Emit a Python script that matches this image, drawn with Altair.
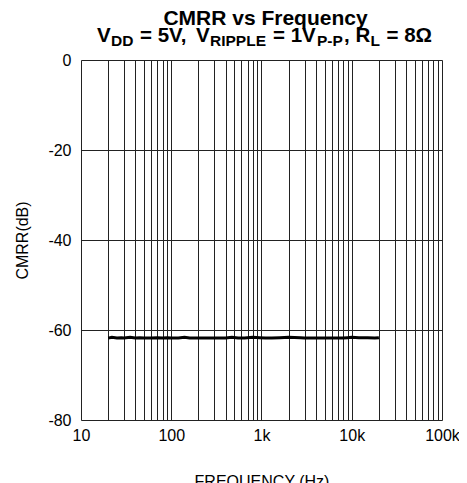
import altair as alt
import pandas as pd

# ---- data ----
freq_hz = [20, 22, 25, 28, 30, 35, 40, 45, 50, 60, 70, 80, 90, 100, 120, 140, 160,
           200, 250, 300, 350, 400, 470, 550, 650, 800, 950, 1100, 1300, 1600, 2000,
           2700, 3000, 4000, 5000, 6000, 7000, 8000, 9000, 10000, 12000, 15000, 18000, 20000]
cmrr_db = [-61.8, -61.6, -61.8, -61.7, -61.8, -61.6, -61.8, -61.7, -61.8, -61.8, -61.7, -61.8, -61.7, -61.8, -61.8, -61.6, -61.8,
           -61.8, -61.8, -61.8, -61.8, -61.8, -61.6, -61.8, -61.8, -61.6, -61.7, -61.8, -61.8, -61.7, -61.6,
           -61.7, -61.8, -61.8, -61.8, -61.8, -61.8, -61.8, -61.7, -61.6, -61.7, -61.7, -61.8, -61.7]

x_tick_values = [10, 20, 30, 40, 50, 60, 70, 80, 90,
                 100, 200, 300, 400, 500, 600, 700, 800, 900,
                 1000, 2000, 3000, 4000, 5000, 6000, 7000, 8000, 9000,
                 10000, 20000, 30000, 40000, 50000, 60000, 70000, 80000, 90000, 100000]
x_label_values = [10, 100, 1000, 10000, 100000]
x_label_texts = ["10", "100", "1k", "10k", "100k"]
y_tick_values = [-80, -60, -40, -20, 0]

title_line1 = "CMRR vs Frequency"
# subtitle pieces: text, font size, page x, is_subscript
sub_texts = ["V", "DD", "= 5V,", "V", "RIPPLE", "= 1V", "P-P", ",", "R", "L", "= 8Ω"]
sub_sizes = [20.5, 15.5, 20.5, 20.5, 15.5, 20.5, 15.5, 20.5, 20.5, 15.5, 20.5]
sub_pagex = [97, 111, 140, 196, 210, 273, 317, 344, 355.5, 370.5, 386.5]
sub_is_sub = [0, 1, 0, 0, 1, 0, 1, 0, 0, 1, 0]

# ---- layout constants ----
PLOT_W, PLOT_H = 361, 360
PAD_L, PAD_T = 73, 52
ORIGIN_X, ORIGIN_Y = 8 + PAD_L, 8 + PAD_T

df = pd.DataFrame({"freq": freq_hz, "cmrr": cmrr_db})

label_expr = " : ".join(
    f"datum.value == {v} ? '{t}'" for v, t in zip(x_label_values, x_label_texts)
) + " : ''"

FONT = "Liberation Sans"

line = alt.Chart(df).mark_line(color="black", strokeWidth=3).encode(
    x=alt.X("freq:Q",
            scale=alt.Scale(type="log", domain=[10, 100000], nice=False),
            axis=alt.Axis(values=x_tick_values, labelExpr=label_expr, title="FREQUENCY (Hz)",
                          grid=True, gridColor="#222222", gridWidth=1, gridOpacity=1,
                          ticks=False, domain=False, labelOverlap=False, labelFlush=False,
                          labelFont=FONT, labelFontSize=16, labelColor="black", labelPadding=7,
                          titleFont=FONT, titleFontSize=16, titleFontWeight="normal",
                          titleColor="black", titlePadding=30)),
    y=alt.Y("cmrr:Q",
            scale=alt.Scale(domain=[-80, 0], nice=False, zero=False),
            axis=alt.Axis(values=y_tick_values, labelExpr="'' + datum.value", title="CMRR(dB)",
                          grid=True, gridColor="#222222", gridWidth=1, gridOpacity=1,
                          ticks=False, domain=False,
                          labelFont=FONT, labelFontSize=16, labelColor="black", labelPadding=10,
                          titleFont=FONT, titleFontSize=16, titleFontWeight="normal",
                          titleColor="black", titlePadding=17)),
)

t1 = alt.Chart(pd.DataFrame({"t": [title_line1]})).mark_text(
    font=FONT, fontSize=21, fontWeight="bold", align="center", baseline="alphabetic", color="black"
).encode(
    text="t:N",
    x=alt.value(265.5 - ORIGIN_X),
    y=alt.value(25 - ORIGIN_Y),
)

sub_df = pd.DataFrame({
    "t": sub_texts,
    "size": sub_sizes,
    "px": [p - ORIGIN_X for p in sub_pagex],
    "py": [(45.5 if s else 41.7) - ORIGIN_Y for s in sub_is_sub],
})
t2 = alt.Chart(sub_df).mark_text(
    font=FONT, fontWeight="bold", align="left", baseline="alphabetic", color="black"
).encode(
    text="t:N",
    x=alt.X("px:Q", scale=None),
    y=alt.Y("py:Q", scale=None),
    size=alt.Size("size:Q", scale=None, legend=None),
)

chart = alt.layer(line, t1, t2).properties(
    width=PLOT_W, height=PLOT_H,
    autosize=alt.AutoSizeParams(type="none"),
    padding={"left": PAD_L, "top": PAD_T, "right": 17, "bottom": 63},
).configure_view(
    stroke="black", strokeWidth=1.5
).configure(background="white")

chart.save("out.html", embed_options={"renderer": "svg", "actions": False})
